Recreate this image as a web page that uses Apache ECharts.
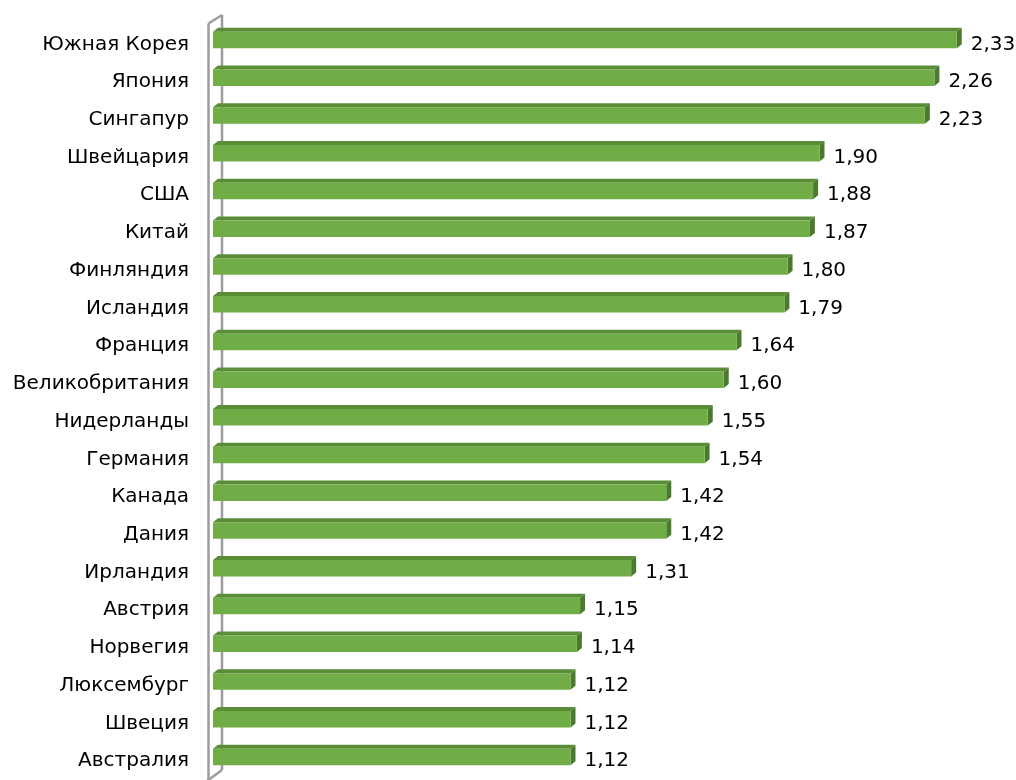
<!DOCTYPE html>
<html>
<head>
<meta charset="utf-8">
<script src="https://cdn.jsdelivr.net/npm/echarts@6/dist/echarts.min.js"></script>
<style>
html,body{margin:0;padding:0;background:#fff;}
#chart{width:1016px;height:780px;}
</style>
</head>
<body>
<div id="chart"></div>
<script>
const categories = ['Южная Корея','Япония','Сингапур','Швейцария','США','Китай','Финляндия','Исландия','Франция','Великобритания','Нидерланды','Германия','Канада','Дания','Ирландия','Австрия','Норвегия','Люксембург','Швеция','Австралия'];
const values = [2.33,2.26,2.23,1.90,1.88,1.87,1.80,1.79,1.64,1.60,1.55,1.54,1.42,1.42,1.31,1.15,1.14,1.12,1.12,1.12];

const FRONT = '#70ad47', TOP = '#5a8d38', SIDE = '#4b7a2e';
const FONT = 'DejaVu Sans';
const WALL = {stroke: '#9c9c9c', lineWidth: 2.5, fill: null};

const chart = echarts.init(document.getElementById('chart'), null, {renderer: 'canvas'});

function renderBar(params, api) {
  const idx = api.value(0);
  const val = api.value(1);
  const end = api.coord([val, idx]);
  const start = api.coord([0, idx]);
  const h = 16.5, dx = 5, dy = 4;
  const x0 = start[0], x1 = end[0];
  const yt = end[1] - 12.5, yb = yt + h;
  return {
    type: 'group',
    children: [
      {type: 'polygon', shape: {points: [[x0, yt], [x0 + dx, yt - dy], [x1 + dx, yt - dy], [x1, yt]]}, style: {fill: TOP}},
      {type: 'polygon', shape: {points: [[x1, yt], [x1 + dx, yt - dy], [x1 + dx, yb - dy], [x1, yb]]}, style: {fill: SIDE}},
      {type: 'rect', shape: {x: x0, y: yt, width: x1 - x0, height: h}, style: {fill: FRONT}},
      {type: 'text', style: {x: x1 + 14, y: end[1], text: val.toFixed(2).replace('.', ','), fill: '#000', font: '20px "' + FONT + '"', verticalAlign: 'middle', align: 'left'}}
    ]
  };
}

const option = {
  backgroundColor: '#fff',
  animation: false,
  grid: {left: 213, top: 25.5, width: 798, height: 759, containLabel: false},
  xAxis: {type: 'value', min: 0, max: 2.5, show: false},
  yAxis: {
    type: 'category', data: categories, inverse: true,
    axisLine: {show: false}, axisTick: {show: false}, splitLine: {show: false},
    axisLabel: {margin: 24, color: '#000', fontFamily: FONT, fontSize: 20}
  },
  graphic: [
    {type: 'line', shape: {x1: 208.5, y1: 790, x2: 208.5, y2: 23.5}, style: WALL, z: 1},
    {type: 'line', shape: {x1: 208.5, y1: 23.5, x2: 222, y2: 15}, style: WALL, z: 1},
    {type: 'line', shape: {x1: 222, y1: 15, x2: 222, y2: 770}, style: WALL, z: 1},
    {type: 'line', shape: {x1: 222, y1: 770, x2: 207, y2: 781}, style: WALL, z: 1}
  ],
  series: [{
    type: 'custom',
    renderItem: renderBar,
    encode: {x: 1, y: 0},
    data: values.map((v, i) => [i, v]),
    z: 5
  }]
};
chart.setOption(option);
</script>
</body>
</html>
